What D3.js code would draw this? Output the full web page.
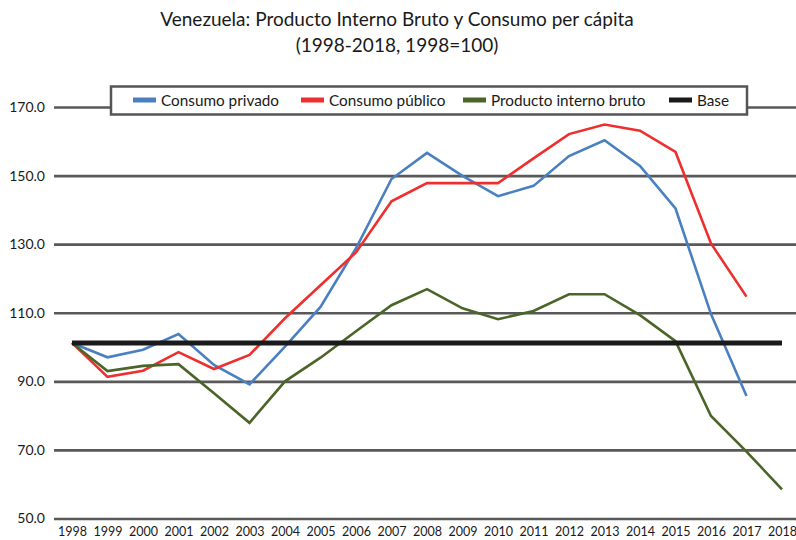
<!DOCTYPE html>
<html>
<head>
<meta charset="utf-8">
<script src="https://cdn.jsdelivr.net/npm/d3@7"></script>
<style>
  body { margin: 0; background: #fff; }
  svg { display: block; font-family: Lato, "Open Sans", sans-serif; }
</style>
</head>
<body>
<div id="chart"></div>
<script>
// Data
const years = d3.range(1998, 2019);
const consumoPrivado = [101.2, 97.0, 99.2, 103.8, 94.8, 89.1, 100.1, 111.7, 128.8, 149.0, 156.6, 149.9, 144.0, 147.0, 155.7, 160.3, 152.8, 140.4, 109.6, 85.7, null];
const consumoPublico = [101.2, 91.3, 93.1, 98.5, 93.6, 97.7, 108.4, 118.0, 127.6, 142.5, 147.8, 147.8, 147.8, 155.0, 162.1, 164.9, 163.1, 156.9, 130.2, 114.7, null];
const pib = [101.2, 93.0, 94.5, 95.0, 86.5, 77.9, 90.0, 96.9, 104.6, 112.2, 116.9, 111.3, 108.1, 110.5, 115.4, 115.4, 109.3, 101.7, 79.9, 69.5, 58.5];
const base = years.map(() => 101.2);
const yTicks = [50, 70, 90, 110, 130, 150, 170];

const series = [
  { name: "Consumo privado", values: consumoPrivado, color: "#4a80c0", width: 2.6 },
  { name: "Consumo público", values: consumoPublico, color: "#ee2f2f", width: 2.6 },
  { name: "Producto interno bruto", values: pib, color: "#4b6428", width: 2.6 },
  { name: "Base", values: base, color: "#1a1a1a", width: 5 }
];

const W = 796, H = 540;
const svg = d3.select("#chart").append("svg")
    .attr("width", W)
    .attr("height", H);

const x = d3.scalePoint().domain(years).range([72, 782]);
const y = d3.scaleLinear().domain([50, 170]).range([518.5, 107]);

// title
svg.append("text")
    .attr("x", 397).attr("y", 26)
    .attr("text-anchor", "middle")
    .attr("font-size", 19)
    .attr("fill", "#1a1a1a")
    .text("Venezuela: Producto Interno Bruto y Consumo per cápita");
svg.append("text")
    .attr("x", 397).attr("y", 52)
    .attr("text-anchor", "middle")
    .attr("font-size", 19)
    .attr("fill", "#1a1a1a")
    .text("(1998-2018, 1998=100)");

// gridlines + y labels
const yAxis = d3.axisLeft(y)
    .tickValues(yTicks)
    .tickSize(-(W - 54))
    .tickFormat(d3.format(".1f"));
const gy = svg.append("g")
    .attr("transform", "translate(54,0)")
    .call(yAxis);
gy.select(".domain").remove();
gy.selectAll(".tick line").attr("stroke", "#595959").attr("stroke-width", 2.6);
gy.selectAll(".tick text")
    .attr("x", -9)
    .attr("font-size", 14)
    .attr("font-family", "Lato, sans-serif")
    .attr("fill", "#1a1a1a");

// x labels
const xAxis = d3.axisBottom(x).tickSize(0).tickPadding(0);
const gx = svg.append("g")
    .attr("transform", "translate(0,527)")
    .call(xAxis);
gx.select(".domain").remove();
gx.selectAll(".tick text")
    .attr("font-size", 12.5)
    .attr("font-family", "Lato, sans-serif")
    .attr("fill", "#1a1a1a");

// lines
const line = d3.line()
    .defined(d => d[1] != null)
    .x(d => x(d[0]))
    .y(d => y(d[1]));

svg.selectAll("path.series")
  .data(series)
  .enter().append("path")
    .attr("class", "series")
    .attr("fill", "none")
    .attr("stroke", d => d.color)
    .attr("stroke-width", d => d.width)
    .attr("stroke-linejoin", "miter")
    .attr("d", d => line(years.map((yr, i) => [yr, d.values[i]])));

// legend
const lg = svg.append("g");
lg.append("rect")
    .attr("x", 111).attr("y", 86.5)
    .attr("width", 636).attr("height", 28)
    .attr("fill", "#fff")
    .attr("stroke", "#555")
    .attr("stroke-width", 2.5);
const legendX = [133, 301, 463, 669];
series.forEach((s, i) => {
  lg.append("rect")
      .attr("x", legendX[i]).attr("y", 97.5)
      .attr("width", 23).attr("height", 5)
      .attr("fill", s.color);
  lg.append("text")
      .attr("x", legendX[i] + 28).attr("y", 105.5)
      .attr("font-size", 15.3)
      .attr("fill", "#1a1a1a")
      .text(s.name);
});
</script>
</body>
</html>
